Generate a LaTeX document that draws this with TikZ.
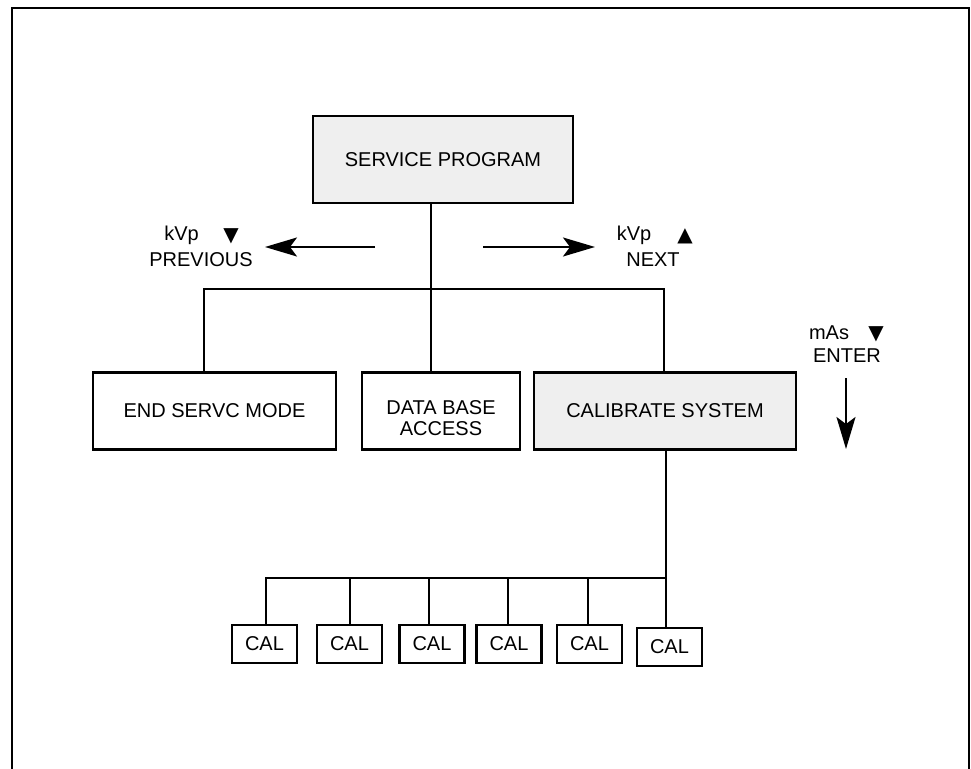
\documentclass[tikz,border=0pt]{standalone}
\usepackage{fontspec}
\setmainfont{Liberation Sans}
\newfontfamily\symfont{DejaVu Sans}
\usetikzlibrary{arrows.meta}
\definecolor{boxgray}{HTML}{EFEFEF}
\tikzset{
  x=1bp, y=-1bp,
  every node/.style={font=\fontsize{20bp}{20.5bp}\selectfont},
  box/.style={draw, line width=2.6bp, inner sep=0pt, align=center},
  shaded/.style={box, fill=boxgray},
  calbox/.style={box, minimum width=65bp, minimum height=38bp},
  conn/.style={line width=2bp},
  bigarrow/.style={line width=2bp, -{Stealth[length=32bp, width=19bp, inset=7bp]}},
  lbl/.style={inner sep=0pt, anchor=center},
  frame/.style={line width=2.8bp}
}
\begin{document}
\begin{tikzpicture}
\useasboundingbox (0,0) rectangle (971,769);
% outer frame (open at the bottom)
\draw[frame] (12,769) -- (12,8) -- (969,8) -- (969,769);

% main boxes
\node[shaded, minimum width=260bp, minimum height=87bp] (sp) at (443,159.5) {SERVICE PROGRAM};
\node[box, minimum width=243bp, minimum height=77bp] (end) at (214.5,411) {END SERVC MODE};
\node[box, minimum width=158bp, minimum height=77bp,
      label={[lbl, align=center, yshift=-7bp]center:DATA BASE\\ACCESS}] (db) at (441,411) {};
\node[shaded, minimum width=262bp, minimum height=77bp] (cs) at (665,411) {CALIBRATE SYSTEM};

% top tree
\coordinate (t) at (431,289);
\coordinate (hl) at (204,289);
\coordinate (hr) at (664,289);
\draw[conn] (sp.south -| t) -- (t);
\draw[conn] (end.north -| hl) -- (hl) -- (hr) -- (cs.north -| hr);
\draw[conn] (t) -- (db.north -| t);

% navigation arrows
\coordinate (la1) at (375,247);
\coordinate (la2) at (265,247);
\coordinate (ra1) at (483,247);
\coordinate (ra2) at (595,247);
\draw[bigarrow] (la1) -- (la2);
\draw[bigarrow] (ra1) -- (ra2);
\node[lbl] (kvpl) at (181.5,235) {kVp};
\node[lbl] (trl) at (231,236) {\symfont ▼};
\node[lbl] (prev) at (201,260) {PREVIOUS};
\node[lbl] (kvpr) at (634,235) {kVp};
\node[lbl] (trr) at (685,236) {\symfont ▲};
\node[lbl] (next) at (653,260) {NEXT};

% enter
\node[lbl] (mas) at (829,333) {mAs};
\node[lbl] (trm) at (876,334) {\symfont ▼};
\node[lbl] (enter) at (847,356) {ENTER};
\coordinate (ea1) at (846,378);
\coordinate (ea2) at (846,449);
\draw[bigarrow] (ea1) -- (ea2);

% CAL boxes
\node[calbox] (c1) at (264.5,644) {CAL};
\node[calbox] (c2) at (349.5,644) {CAL};
\node[calbox] (c3) at (432,644) {CAL};
\node[calbox] (c4) at (509,644) {CAL};
\node[calbox] (c5) at (589.5,644) {CAL};
\node[calbox] (c6) at (669.5,647) {CAL};

% lower tree
\coordinate (br) at (666,578);
\coordinate (b1) at (266,578);
\coordinate (b2) at (350,578);
\coordinate (b3) at (429,578);
\coordinate (b4) at (508,578);
\coordinate (b5) at (588,578);
\draw[conn] (cs.south -| br) -- (br) -- (b1) -- (c1.north -| b1);
\draw[conn] (br) -- (c6.north -| br);
\draw[conn] (b2) -- (c2.north -| b2);
\draw[conn] (b3) -- (c3.north -| b3);
\draw[conn] (b4) -- (c4.north -| b4);
\draw[conn] (b5) -- (c5.north -| b5);
\end{tikzpicture}
\end{document}
